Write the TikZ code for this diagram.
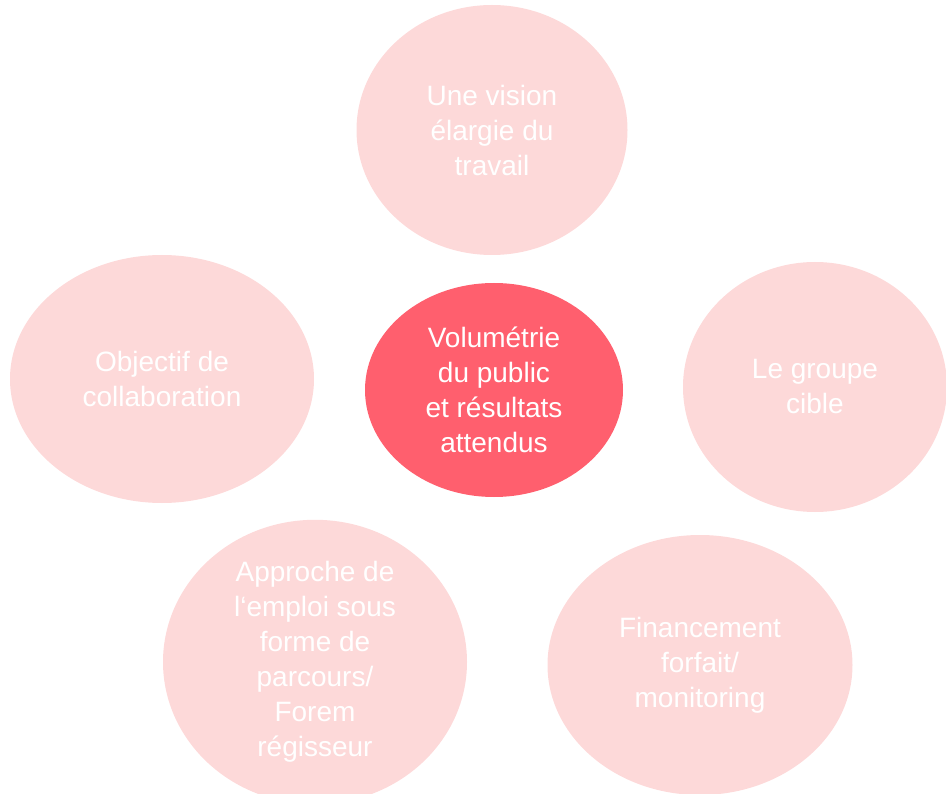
\documentclass[tikz,border=0pt]{standalone}
\usepackage{fontspec}
\setmainfont{Liberation Sans}
\usetikzlibrary{shapes.geometric}
\definecolor{lightpink}{HTML}{FDD9D9}
\definecolor{strongpink}{HTML}{FF5F6E}
\begin{document}
\begin{tikzpicture}[x=1pt,y=-1pt,
  bubble/.style={ellipse,fill=lightpink,draw=none,inner sep=0pt,text=white,align=center,
    font=\fontsize{28}{35}\selectfont},
  core/.style={bubble,fill=strongpink}]
\useasboundingbox (0,0) rectangle (946,794);
\begin{scope}
\clip (0,0) rectangle (946,794);
\node[bubble,minimum width=271pt,minimum height=250pt] (top) at (492,130) {Une vision\\élargie du\\travail};
\node[bubble,minimum width=304pt,minimum height=248pt] (left) at (162,379) {Objectif de\\collaboration};
\node[core,minimum width=258pt,minimum height=214pt] (center) at (494,390) {Volumétrie\\du public\\et résultats\\attendus};
\node[bubble,minimum width=264pt,minimum height=250pt] (right) at (815,387) {Le groupe\\cible};
\node[bubble,minimum width=304pt,minimum height=250pt] (bl) at (315,662) {Approche de\\l‘emploi sous\\forme de\\parcours/\\Forem\\régisseur};
\node[bubble,minimum width=305pt,minimum height=260pt] (br) at (700,665) {Financement\\forfait/\\monitoring};
\end{scope}
\end{tikzpicture}
\end{document}
